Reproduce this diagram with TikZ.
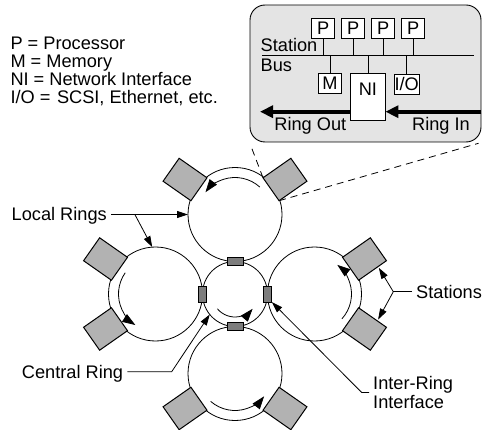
\documentclass[tikz,border=0pt]{standalone}
\usepackage{fontspec}
\setmainfont{Liberation Sans}
\usetikzlibrary{arrows.meta,calc,backgrounds}
\definecolor{stationgray}{RGB}{178,178,178}
\definecolor{ifacegray}{RGB}{125,125,125}
\definecolor{panelgray}{RGB}{228,228,228}
\begin{document}
\begin{tikzpicture}[x=1pt,y=1pt,
  lbl/.style={font=\fontsize{18.2}{18.4}\selectfont, inner sep=0pt, text height=13pt, text depth=0pt},
  lblm/.style={font=\fontsize{18.2}{18.4}\selectfont, inner sep=0pt, align=left},
  ring/.style={circle, draw, line width=0.8pt, minimum size=94pt, inner sep=0pt, outer sep=0pt},
  hub/.style={circle, draw, line width=0.8pt, minimum size=65pt, inner sep=0pt, outer sep=0pt},
  station/.style={draw, fill=stationgray, line width=1pt, minimum width=34pt, minimum height=28pt, inner sep=0pt, outer sep=0pt},
  iface/.style={draw, fill=ifacegray, line width=0.8pt, inner sep=0pt, outer sep=0pt},
  flow/.style={line width=0.8pt, -{Triangle[length=13pt,width=9pt]}},
  pointer/.style={line width=0.8pt, -{Triangle[length=11pt,width=7pt]}},
  cell/.style={lbl, draw, fill=white, line width=0.8pt, minimum width=23pt, minimum height=20pt},
  fat/.style={line width=4pt, -{Triangle[length=13pt,width=12pt]}},
  zoomline/.style={line width=0.8pt, dash pattern=on 7pt off 5pt}
]
\useasboundingbox (0,0) rectangle (482,429);

% rings
\node[hub]  (C) at (235,135) {};
\node[ring] (T) at (235,214.5) {};
\node[ring] (B) at (235,55.5) {};
\node[ring] (L) at (155.5,135) {};
\node[ring] (R) at (314.5,135) {};

% circulation direction inside each ring
\draw[flow] ([shift={(48:37)}]T.center) arc[start angle=48, end angle=143, radius=37];
\draw[flow] ([shift={(145:37)}]L.center) arc[start angle=145, end angle=237, radius=37];
\draw[flow] ([shift={(229:37)}]B.center) arc[start angle=229, end angle=322, radius=37];
\draw[flow] ([shift={(-42:37)}]R.center) arc[start angle=-42, end angle=52, radius=37];
\draw[flow] ([shift={(220:23)}]C.center) arc[start angle=220, end angle=320, radius=23];

% stations on the local rings
\node[station, rotate=35]  (T1) at ([shift={(35:61)}]T.center) {};
\node[station, rotate=145] (T2) at ([shift={(145:61)}]T.center) {};
\node[station, rotate=145] (L1) at ([shift={(145:61)}]L.center) {};
\node[station, rotate=215] (L2) at ([shift={(215:61)}]L.center) {};
\node[station, rotate=215] (B1) at ([shift={(215:61)}]B.center) {};
\node[station, rotate=325] (B2) at ([shift={(325:61)}]B.center) {};
\node[station, rotate=325] (R1) at ([shift={(325:61)}]R.center) {};
\node[station, rotate=35]  (R2) at ([shift={(35:61)}]R.center) {};

% inter-ring interfaces
\node[iface, minimum width=16pt, minimum height=8.5pt] (IT) at (C.north) {};
\node[iface, minimum width=16pt, minimum height=8.5pt] (IB) at (C.south) {};
\node[iface, minimum width=8.5pt, minimum height=16pt] (IL) at (C.west) {};
\node[iface, minimum width=8.5pt, minimum height=16pt] (IR) at (C.east) {};

% detail panel of one station, tied to it by dashed lines
\node[draw, fill=panelgray, line width=0.9pt, rounded corners=15pt,
      minimum width=231pt, minimum height=137pt, inner sep=0pt] (zoombox) at (365.5,355.5) {};
\begin{pgfonlayer}{background}
  \draw[zoomline, shorten >=5pt] (T1.north west) -- (zoombox.south west);
  \draw[zoomline, shorten >=3pt] (T1.south west) -- (zoombox.south east);
\end{pgfonlayer}

\coordinate (busL) at (262,374);
\coordinate (busR) at (474,374);
\draw[line width=0.8pt] (busL) -- (busR);
\node[lbl, anchor=west] (stn) at (260.5,384) {Station};
\node[lbl, anchor=west] (bus) at (260.5,364) {Bus};

\node[cell] (P1) at (323.3,400.7) {P};
\node[cell] (P2) at (353.3,400.7) {P};
\node[cell] (P3) at (383.3,400.7) {P};
\node[cell] (P4) at (413.3,400.7) {P};
\node[cell] (M)  at (330,345.7) {M};
\node[cell, minimum width=25.3pt] (IO) at (406.7,345) {I/O};
\node[cell, minimum width=34.3pt, minimum height=46.7pt, text depth=14.8pt] (NI) at (367.9,332.3) {NI};

\foreach \p in {P1,P2,P3,P4} \draw[line width=0.8pt] (\p.south) -- (\p.south |- busL);
\foreach \q in {M,NI,IO} \draw[line width=0.8pt] (\q.north) -- (\q.north |- busL);

\coordinate (ringout) at (260,317.3);
\coordinate (ringin) at (zoombox.east |- ringout);
\draw[fat] (NI.west |- ringout) -- (ringout);
\draw[fat] (ringin) -- (NI.east |- ringout);
\node[lbl] (rout) at (310.3,305.3) {Ring Out};
\node[lbl] (rin)  at (441,305) {Ring In};

% legend
\node[lbl, anchor=west] (lg1) at (10.3,386.3) {P = Processor};
\node[lbl, anchor=west] (lg2) at (10.3,368) {M = Memory};
\node[lbl, anchor=west] (lg3) at (10.3,350) {NI = Network Interface};
\node[lbl, anchor=west] (lg4) at (10.3,332.3) {I/O = \hspace{1.5pt}SCSI, Ethernet, etc.};

% callouts
\node[lbl, anchor=east, inner xsep=4pt] (LR) at (111,214.5) {Local Rings};
\coordinate (lrfork) at ($(LR.east)!0.31!(T.west)$);
\draw[pointer] (LR.east) -- (T.west);
\draw[pointer] (lrfork) -- (L.94);

\node[lbl, anchor=east, inner xsep=4pt] (CRL) at (127.3,57.3) {Central Ring};
\coordinate (crbend) at (171.7,57.3);
\draw[pointer] (CRL.east) -- (crbend) -- (C.219);

\node[lblm, anchor=west, inner xsep=4pt] (IRL) at (369,36.5) {Inter-Ring\\Interface};
\coordinate (irbend) at (361.7,36.5);
\draw[pointer] (IRL.west) -- (irbend) -- (IR.south east);

\node[lbl, anchor=west, inner xsep=4pt] (STL) at (412,137.3) {Stations};
\coordinate (stfork) at (393.3,137.3);
\coordinate (stup) at ($(R2.south)!0.4!(R2.south east)$);
\coordinate (stdown) at ($(R1.north)!0.35!(R1.north east)$);
\draw[line width=0.8pt] (STL.west) -- (stfork);
\draw[pointer, shorten >=1.5pt] (stfork) -- (stup);
\draw[pointer, shorten >=1.5pt] (stfork) -- (stdown);
\end{tikzpicture}
\end{document}
